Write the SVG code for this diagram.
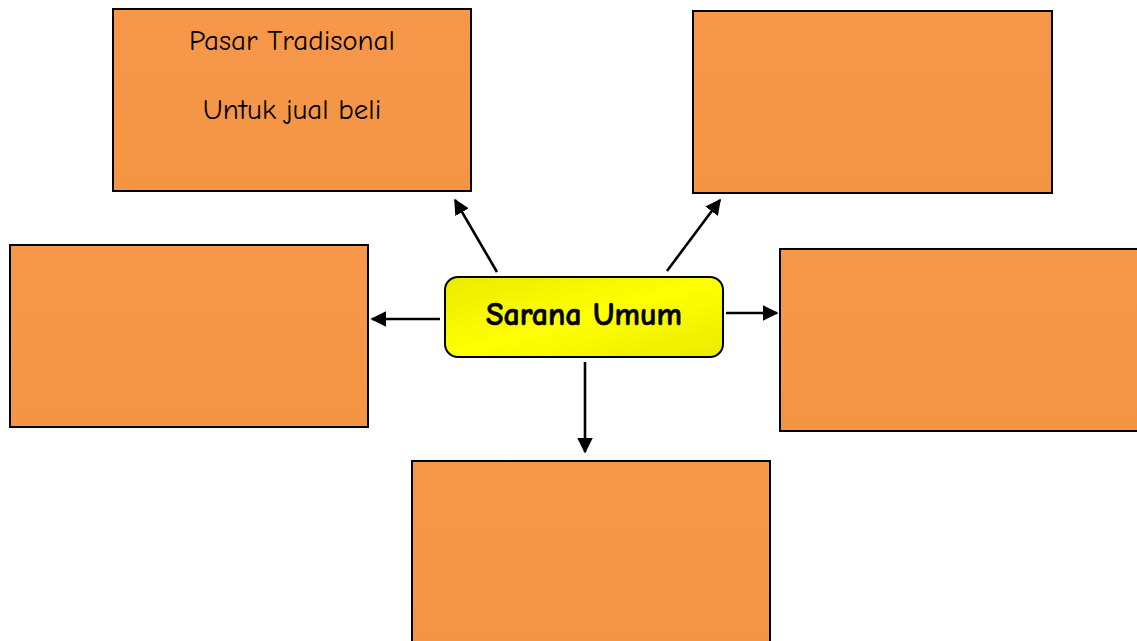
<svg xmlns="http://www.w3.org/2000/svg" width="1137" height="641" viewBox="0 0 1137 641">
<defs>
<linearGradient id="og" x1="0" y1="0" x2="0" y2="1">
<stop offset="0" stop-color="#F7974A"/>
<stop offset="1" stop-color="#F49545"/>
</linearGradient>
<linearGradient id="yg" x1="0" y1="0" x2="1" y2="1">
<stop offset="0" stop-color="#EBEB00"/>
<stop offset="0.5" stop-color="#FFFF00"/>
<stop offset="1" stop-color="#EBEB00"/>
</linearGradient>
<marker id="ah" viewBox="0 0 10 10" refX="9" refY="5" markerWidth="6" markerHeight="6" orient="auto" markerUnits="strokeWidth">
<path d="M0,0 L10,5 L0,10 z" fill="#000"/>
</marker>
</defs>
<style>
.box{fill:url(#og);stroke:#000;stroke-width:2}
.t{font-family:"Comic Sans MS","Comic Neue","Noto Sans",sans-serif;font-size:29px;fill:#000;text-anchor:middle}
.tc{font-size:32px;font-weight:bold;stroke:#000;stroke-width:0.6}
.c{fill:none;stroke:#000;stroke-width:2.6;marker-end:url(#ah)}
</style>
<rect width="1137" height="641" fill="#fff"/>
<g id="n-topleft">
<rect class="box" x="113" y="9" width="358" height="182"/>
<text class="t" x="292" y="50">Pasar Tradisonal</text>
<text class="t" x="292" y="119">Untuk jual beli</text>
</g>
<g id="n-topright"><rect class="box" x="693" y="11" width="359" height="182"/></g>
<g id="n-left"><rect class="box" x="10" y="245" width="358" height="182"/></g>
<g id="n-right"><rect class="box" x="780" y="249" width="360" height="182"/></g>
<g id="n-bottom"><rect class="box" x="412" y="461" width="358" height="185"/></g>
<g id="n-center">
<rect x="445" y="277" width="278" height="80" rx="13" fill="url(#yg)" stroke="#000" stroke-width="2"/>
<text class="t tc" x="584" y="325">Sarana Umum</text>
</g>
<g id="connectors">
<line class="c" x1="497" y1="272" x2="455" y2="200"/>
<line class="c" x1="667" y1="271" x2="720" y2="200"/>
<line class="c" x1="440" y1="319" x2="372" y2="319"/>
<line class="c" x1="726" y1="313" x2="777" y2="313"/>
<line class="c" x1="585" y1="362" x2="585" y2="452"/>
</g>
</svg>
